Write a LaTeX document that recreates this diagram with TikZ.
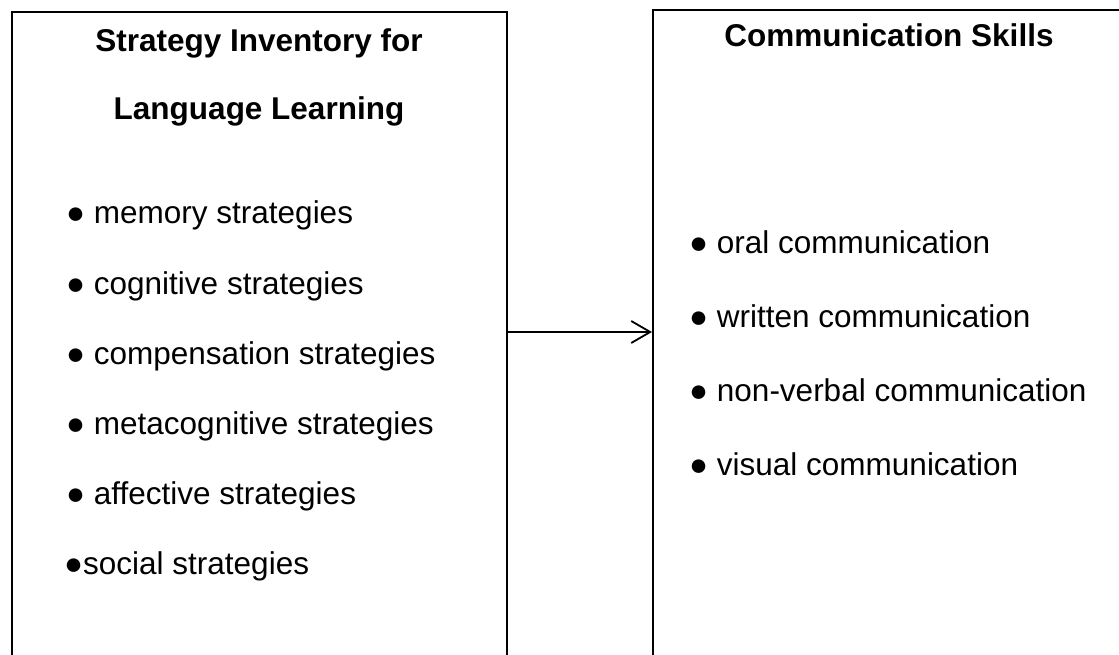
\documentclass[tikz,border=0pt]{standalone}
\usepackage{fontspec}
\setmainfont{Liberation Sans}
\usetikzlibrary{arrows.meta}
\begin{document}
\begin{tikzpicture}[x=1pt,y=-1pt,
  boxline/.style={draw=black,line width=1.8pt,inner sep=0pt},
  ttl/.style={font=\fontsize{31.5}{37}\selectfont\bfseries,anchor=base,inner sep=0pt},
  itm/.style={font=\fontsize{31.5}{37}\selectfont,anchor=base west,inner sep=0pt},
  arr/.style={line width=1.8pt,-{Straight Barb[length=19pt,width=22pt,line width=1.8pt]}}]
\useasboundingbox (0,0) rectangle (1119,655);
\clip (0,0) rectangle (1119,655);
\fill[white] (0,0) rectangle (1119,655);
% boxes (extend beyond bottom/right edge)
\node[boxline,anchor=north west,minimum width=495pt,minimum height=700pt] (L) at (11,11) {};
\node[boxline,anchor=north west,minimum width=520pt,minimum height=700pt] (R) at (652,9) {};
% titles
\node[ttl] (t1) at (259,52) {Strategy Inventory for};
\node[ttl] (t2) at (259,120) {Language Learning};
\node[ttl] (t3) at (889,47) {Communication Skills};
% left items
\node[itm] (l1) at (66,224) {● memory strategies};
\node[itm] (l2) at (66,294) {● cognitive strategies};
\node[itm] (l3) at (66,364) {● compensation strategies};
\node[itm] (l4) at (66,434) {● metacognitive strategies};
\node[itm] (l5) at (66,504) {● affective strategies};
\node[itm] (l6) at (64,574) {●social strategies};
% right items
\node[itm] (r1) at (689,253) {● oral communication};
\node[itm] (r2) at (689,327) {● written communication};
\node[itm] (r3) at (689,401) {● non-verbal communication};
\node[itm] (r4) at (689,475) {● visual communication};
% connector
\coordinate (ay) at (0,332);
\draw[arr] (L.east |- ay) -- (R.west |- ay);
\end{tikzpicture}
\end{document}
